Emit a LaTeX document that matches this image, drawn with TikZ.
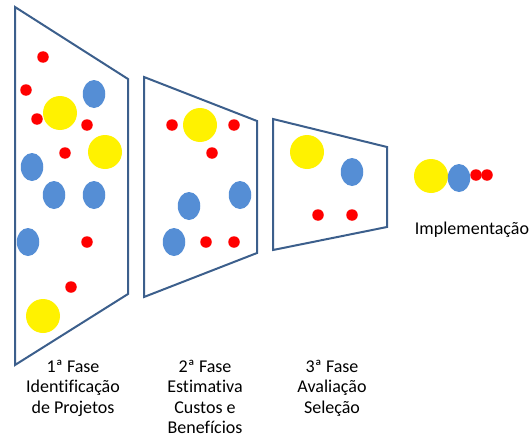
\documentclass[tikz,border=0pt]{standalone}
\usepackage{fontspec}
\setmainfont{Carlito}[Ligatures=NoCommon]
\usetikzlibrary{shapes.geometric}
\definecolor{frameblue}{HTML}{3C5F8C}
\definecolor{dotblue}{HTML}{558ED5}
\begin{document}
\begin{tikzpicture}[x=1pt,y=-1pt,
  panel/.style={draw=frameblue,line width=2pt,line join=miter},
  yel/.style={circle,fill=yellow,inner sep=0pt,minimum size=34pt},
  blu/.style={ellipse,fill=dotblue,inner sep=0pt,minimum width=22.5pt,minimum height=28pt},
  red/.style={circle,fill=red,inner sep=0pt,minimum size=11.5pt},
  lbl/.style={align=center,inner sep=0pt,font=\fontsize{18}{20.3}\selectfont}]
\useasboundingbox (0,0) rectangle (532,436);
% panels
\draw[panel] (15,7) -- (128,79) -- (128,294) -- (15,365) -- cycle;
\draw[panel] (144,77) -- (257,121) -- (257,253) -- (144,297) -- cycle;
\draw[panel] (273,119) -- (387,147) -- (387,227) -- (273,250) -- cycle;
% panel 1
\node[red] (a1) at (43,57) {};
\node[red] (a2) at (26,90) {};
\node[blu] (a3) at (94,94) {};
\node[yel] (a4) at (60,113) {};
\node[red] (a5) at (37,119) {};
\node[red] (a6) at (87,125) {};
\node[red] (a7) at (65,153) {};
\node[yel] (a8) at (105,152) {};
\node[blu] (a9) at (32,167) {};
\node[blu] (a10) at (54,195) {};
\node[blu] (a11) at (94,195) {};
\node[blu] (a12) at (28,242) {};
\node[red] (a13) at (87,242) {};
\node[red] (a14) at (71,287) {};
\node[yel] (a15) at (43,316) {};
% panel 2
\node[red] (b1) at (172,125) {};
\node[yel] (b2) at (200,125) {};
\node[red] (b3) at (234,125) {};
\node[red] (b4) at (212,153) {};
\node[blu] (b5) at (240,195) {};
\node[blu] (b6) at (189,206) {};
\node[blu] (b7) at (174,242) {};
\node[red] (b8) at (206,242) {};
\node[red] (b9) at (234,242) {};
% panel 3
\node[yel] (c1) at (307,152) {};
\node[blu] (c2) at (352,172) {};
\node[red] (c3) at (318,215) {};
\node[red] (c4) at (352,215) {};
% implementation
\node[yel] (d1) at (431,176) {};
\node[blu] (d2) at (459,178) {};
\node[red] (d3) at (476,175) {};
\node[red] (d4) at (487,175) {};
% labels
\node[lbl,anchor=north] (l1) at (73,360) {1ª Fase\\Identificação\\de Projetos};
\node[lbl,anchor=north] (l2) at (205,360) {2ª Fase\\Estimativa\\Custos e\\Benefícios};
\node[lbl,anchor=north] (l3) at (332,360) {3ª Fase\\Avaliação\\Seleção};
\node[lbl,anchor=base] (l4) at (472,234) {Implementação};
\end{tikzpicture}
\end{document}
